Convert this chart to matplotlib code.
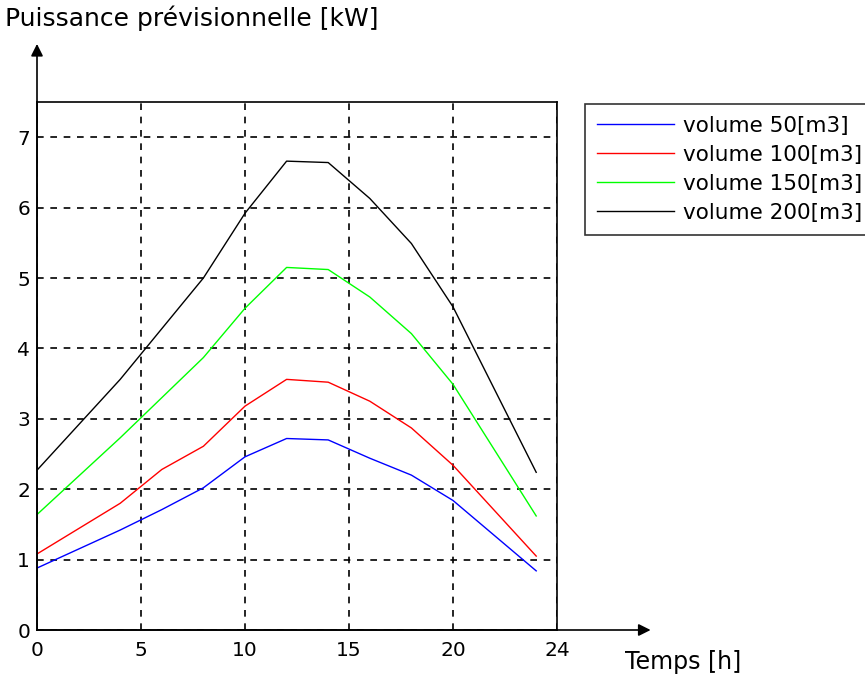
import matplotlib.pyplot as plt

# Forecast power per tank volume over the day
hours = [0, 4, 6, 8, 10, 12, 14, 16, 18, 20, 24]
vol_50 = [0.88, 1.42, 1.71, 2.02, 2.46, 2.72, 2.70, 2.44, 2.20, 1.84, 0.84]
vol_100 = [1.08, 1.80, 2.28, 2.61, 3.18, 3.56, 3.52, 3.25, 2.87, 2.34, 1.05]
vol_150 = [1.64, 2.73, 3.30, 3.87, 4.57, 5.15, 5.12, 4.73, 4.21, 3.49, 1.62]
vol_200 = [2.27, 3.56, 4.28, 5.00, 5.92, 6.66, 6.64, 6.13, 5.49, 4.59, 2.24]

series_labels = ["volume 50[m3]", "volume 100[m3]", "volume 150[m3]", "volume 200[m3]"]
series_colors = ["#0000ff", "#ff0000", "#00ff00", "#000000"]

x_ticks = [0, 5, 10, 15, 20, 25]
x_tick_labels = ["0", "5", "10", "15", "20", "24"]
y_ticks = [0, 1, 2, 3, 4, 5, 6, 7]

fig = plt.figure(figsize=(8.65, 6.77), dpi=100)
ax = fig.add_axes([37 / 865, 1 - 630 / 677, 520 / 865, 528 / 677])

for vals, lab, col in zip([vol_50, vol_100, vol_150, vol_200], series_labels, series_colors):
    ax.plot(hours, vals, color=col, lw=1.0, label=lab)

ax.set_xlim(0, 25)
ax.set_ylim(0, 7.5)
ax.set_xticks(x_ticks)
ax.set_xticklabels(x_tick_labels, fontsize=14.5)
ax.set_yticks(y_ticks)
ax.set_yticklabels([str(v) for v in y_ticks], fontsize=14.5)
ax.tick_params(axis="x", length=0, pad=8)
ax.tick_params(axis="y", length=0, pad=5)
ax.grid(True, color="black", linestyle=(0, (4, 4)), linewidth=1.2)
for s in ax.spines.values():
    s.set_linewidth(1.2)

# arrows extending the axes
ax.annotate("", xy=(1.18, 0), xytext=(0, 0), xycoords="axes fraction",
            arrowprops=dict(arrowstyle="-|>", color="black", lw=1.2,
                            mutation_scale=18, shrinkA=0, shrinkB=0))
ax.annotate("", xy=(0, 1.11), xytext=(0, 0), xycoords="axes fraction",
            arrowprops=dict(arrowstyle="-|>", color="black", lw=1.2,
                            mutation_scale=18, shrinkA=0, shrinkB=0))

fig.text(5 / 865, 1 - 18 / 677, "Puissance prévisionnelle [kW]", fontsize=18,
         ha="left", va="center")
fig.text(625 / 865, 1 - 662 / 677, "Temps [h]", fontsize=17, ha="left", va="center")

leg = ax.legend(loc="upper left", bbox_to_anchor=(585 / 865, 1 - 104 / 677),
                bbox_transform=fig.transFigure, fontsize=15.5, frameon=True,
                fancybox=False, edgecolor="black", handlelength=3.6,
                handletextpad=0.4, labelspacing=0.42, borderpad=0.55,
                borderaxespad=0)
leg.get_frame().set_linewidth(1.2)

fig.savefig("out.png", dpi=100)
